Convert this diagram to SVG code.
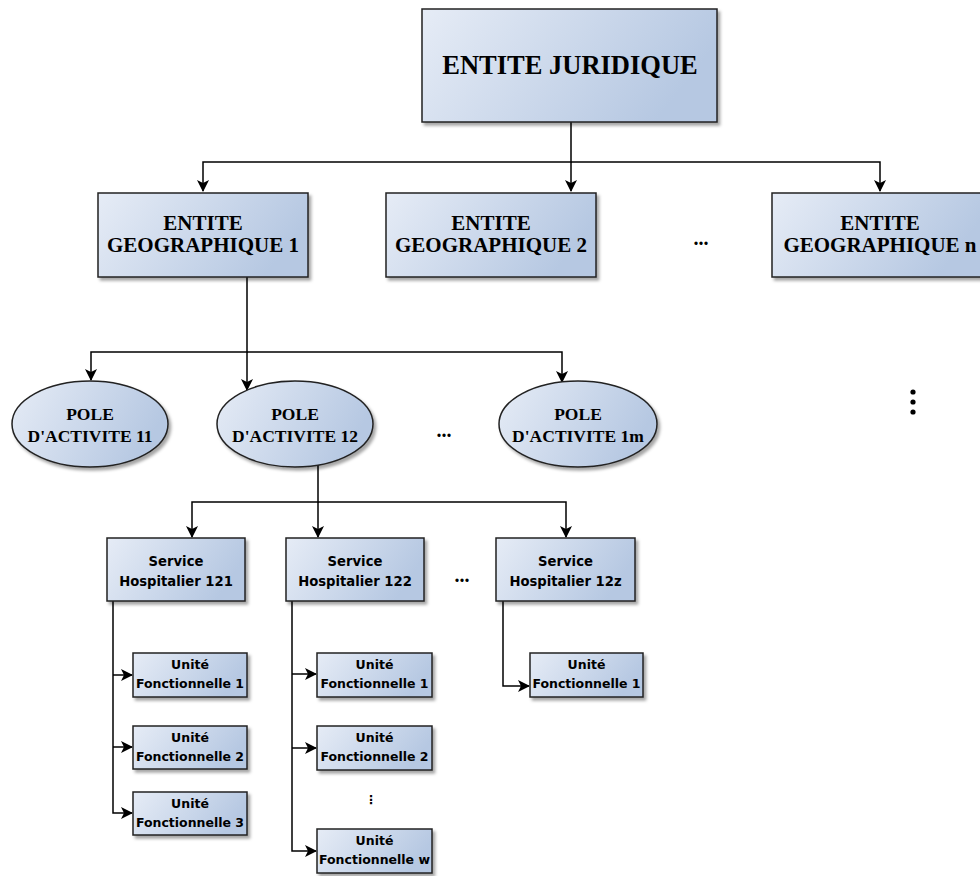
<svg xmlns="http://www.w3.org/2000/svg" width="980" height="876" viewBox="0 0 980 876">
<defs>
<linearGradient id="g" x1="0" y1="0" x2="1" y2="0.3">
<stop offset="0" stop-color="#e6ecf6"/>
<stop offset="1" stop-color="#b6c8e2"/>
</linearGradient>
<filter id="sh" x="-10%" y="-10%" width="130%" height="140%">
<feDropShadow dx="2.5" dy="3" stdDeviation="1.5" flood-color="#000" flood-opacity="0.35"/>
</filter>
<marker id="ar" viewBox="0 0 12 12" refX="11" refY="6" markerWidth="12" markerHeight="12" markerUnits="userSpaceOnUse" orient="auto">
<path d="M0,0 L12,6 L0,12 L3,6 Z" fill="#000"/>
</marker>
<style>
.n{fill:url(#g);stroke:#222;stroke-width:1.5;filter:url(#sh)}
.s{font-family:"Liberation Serif","Times New Roman",serif;font-weight:bold;fill:#000;text-anchor:middle}
.a{font-family:"DejaVu Sans",Verdana,sans-serif;font-weight:bold;fill:#000;text-anchor:middle}
.c{fill:none;stroke:#000;stroke-width:1.5}
.d{font-family:"Liberation Serif",serif;font-weight:bold;font-size:20px;fill:#000;text-anchor:middle}
</style>
</defs>

<g id="connectors">
<path class="c" d="M571,122 V162 H203 V191" marker-end="url(#ar)"/>
<path class="c" d="M571,162 V191" marker-end="url(#ar)"/>
<path class="c" d="M571,162 H880 V191" marker-end="url(#ar)"/>
<path class="c" d="M247,277 V352 H91 V380" marker-end="url(#ar)"/>
<path class="c" d="M247,352 V390" marker-end="url(#ar)"/>
<path class="c" d="M247,352 H562 V382" marker-end="url(#ar)"/>
<path class="c" d="M318,465 V502 H192 V537" marker-end="url(#ar)"/>
<path class="c" d="M318,502 V537" marker-end="url(#ar)"/>
<path class="c" d="M318,502 H566 V537" marker-end="url(#ar)"/>
<path class="c" d="M113,601 V813 H132" marker-end="url(#ar)"/>
<path class="c" d="M113,675 H132" marker-end="url(#ar)"/>
<path class="c" d="M113,747 H132" marker-end="url(#ar)"/>
<path class="c" d="M292,601 V851 H316" marker-end="url(#ar)"/>
<path class="c" d="M292,674 H316" marker-end="url(#ar)"/>
<path class="c" d="M292,748 H316" marker-end="url(#ar)"/>
<path class="c" d="M503,601 V686 H529" marker-end="url(#ar)"/>
</g>

<g id="entite-juridique">
<rect class="n" x="422" y="9" width="295" height="113"/>
<text class="s" x="570" y="74" font-size="26.5">ENTITE JURIDIQUE</text>
</g>

<g id="geo1">
<rect class="n" x="98" y="193" width="210" height="84"/>
<text class="s" x="203" y="230" font-size="21">ENTITE</text>
<text class="s" x="203" y="252" font-size="21">GEOGRAPHIQUE 1</text>
</g>
<g id="geo2">
<rect class="n" x="386" y="193" width="210" height="84"/>
<text class="s" x="491" y="230" font-size="21">ENTITE</text>
<text class="s" x="491" y="252" font-size="21">GEOGRAPHIQUE 2</text>
</g>
<g id="geon">
<rect class="n" x="772" y="193" width="210" height="84"/>
<text class="s" x="880" y="230" font-size="21">ENTITE</text>
<text class="s" x="880" y="252" font-size="21">GEOGRAPHIQUE n</text>
</g>
<text class="d" x="701" y="245">...</text>
<g id="vdots1" fill="#000">
<circle cx="913" cy="392" r="2.6"/>
<circle cx="913" cy="402" r="2.6"/>
<circle cx="913" cy="412" r="2.6"/>
</g>

<g id="pole11">
<ellipse class="n" cx="90" cy="424" rx="78" ry="43"/>
<text class="s" x="90" y="420" font-size="17.5">POLE</text>
<text class="s" x="90" y="442" font-size="17.5">D'ACTIVITE 11</text>
</g>
<g id="pole12">
<ellipse class="n" cx="295" cy="424" rx="78" ry="43"/>
<text class="s" x="295" y="420" font-size="17.5">POLE</text>
<text class="s" x="295" y="442" font-size="17.5">D'ACTIVITE 12</text>
</g>
<g id="pole1m">
<ellipse class="n" cx="578" cy="424" rx="79" ry="43"/>
<text class="s" x="578" y="420" font-size="17.5">POLE</text>
<text class="s" x="578" y="442" font-size="17.5">D'ACTIVITE 1m</text>
</g>
<text class="d" x="444" y="437">...</text>

<g id="sh121">
<rect class="n" x="107" y="538" width="138" height="63"/>
<text class="a" x="176" y="566" font-size="13.2">Service</text>
<text class="a" x="176" y="586" font-size="13.2">Hospitalier 121</text>
</g>
<g id="sh122">
<rect class="n" x="286" y="538" width="138" height="63"/>
<text class="a" x="355" y="566" font-size="13.2">Service</text>
<text class="a" x="355" y="586" font-size="13.2">Hospitalier 122</text>
</g>
<g id="sh12z">
<rect class="n" x="496" y="538" width="139" height="63"/>
<text class="a" x="565.5" y="566" font-size="13.2">Service</text>
<text class="a" x="565.5" y="586" font-size="13.2">Hospitalier 12z</text>
</g>
<text class="d" x="462" y="582">...</text>

<g id="uf121-1">
<rect class="n" x="133" y="653" width="114" height="44"/>
<text class="a" x="190" y="669" font-size="12.5">Unité</text>
<text class="a" x="190" y="688" font-size="12.5">Fonctionnelle 1</text>
</g>
<g id="uf121-2">
<rect class="n" x="133" y="726" width="114" height="43"/>
<text class="a" x="190" y="742" font-size="12.5">Unité</text>
<text class="a" x="190" y="761" font-size="12.5">Fonctionnelle 2</text>
</g>
<g id="uf121-3">
<rect class="n" x="133" y="792" width="114" height="43"/>
<text class="a" x="190" y="808" font-size="12.5">Unité</text>
<text class="a" x="190" y="827" font-size="12.5">Fonctionnelle 3</text>
</g>

<g id="uf122-1">
<rect class="n" x="317" y="653" width="115" height="44"/>
<text class="a" x="374.5" y="669" font-size="12.5">Unité</text>
<text class="a" x="374.5" y="688" font-size="12.5">Fonctionnelle 1</text>
</g>
<g id="uf122-2">
<rect class="n" x="317" y="726" width="115" height="44"/>
<text class="a" x="374.5" y="742" font-size="12.5">Unité</text>
<text class="a" x="374.5" y="761" font-size="12.5">Fonctionnelle 2</text>
</g>
<text class="a" x="371" y="804" font-size="12">⋮</text>
<g id="uf122-w">
<rect class="n" x="317" y="829" width="115" height="44"/>
<text class="a" x="374.5" y="845" font-size="12.5">Unité</text>
<text class="a" x="374.5" y="864" font-size="12.5">Fonctionnelle w</text>
</g>

<g id="uf12z-1">
<rect class="n" x="530" y="653" width="113" height="44"/>
<text class="a" x="586.5" y="669" font-size="12.5">Unité</text>
<text class="a" x="586.5" y="688" font-size="12.5">Fonctionnelle 1</text>
</g>
</svg>
